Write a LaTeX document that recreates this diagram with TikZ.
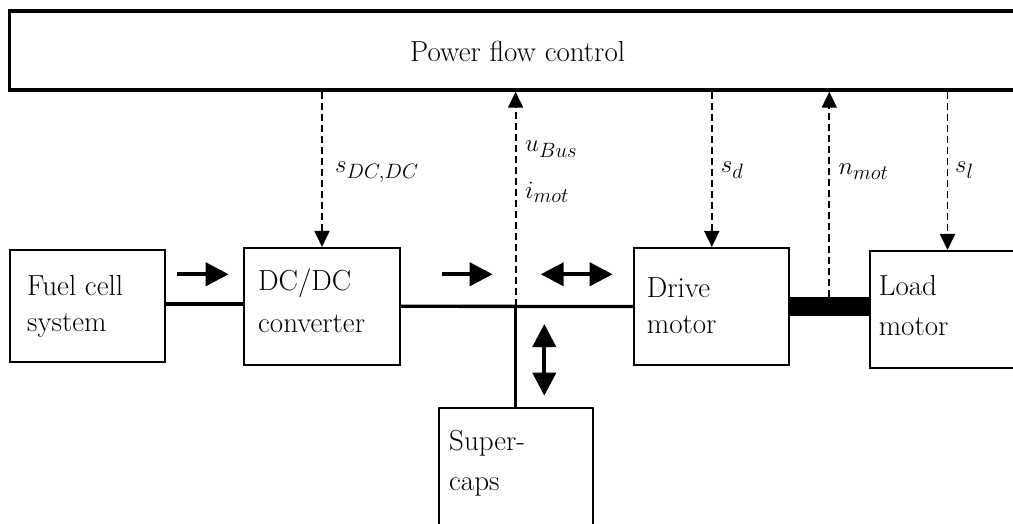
\documentclass[tikz,border=0pt]{standalone}
\usetikzlibrary{arrows.meta}
\begin{document}
\begin{tikzpicture}[x=1pt,y=-1pt,
  blk/.style={draw,line width=2pt,inner sep=0pt,rectangle},
  txt/.style={anchor=base west,inner sep=0pt,font=\fontsize{29}{35}\selectfont},
  lbl/.style={anchor=base west,inner sep=0pt,font=\fontsize{29}{35}\selectfont},
  sig/.style={line width=1.8pt,dash pattern=on 7pt off 4pt,-{Triangle[length=16pt,width=15pt]}},
  pwr/.style={line width=4pt,-{Triangle[length=23pt,width=23pt]}},
  pwr2/.style={line width=4pt,{Triangle[length=23pt,width=23pt]}-{Triangle[length=23pt,width=23pt]}},
  bus/.style={line width=3.3pt}]
\useasboundingbox (0,0) rectangle (1013,524);
\clip (0,0) rectangle (1013,524);
% blocks
\node[blk,line width=3.5pt,minimum width=1020.5pt,minimum height=79pt] (pfc) at (519.75,50.5) {};
\node[blk,minimum width=154.5pt,minimum height=112pt] (fc) at (87.25,306) {};
\node[blk,minimum width=156pt,minimum height=116.7pt] (dcdc) at (322,306.3) {};
\node[blk,minimum width=155pt,minimum height=117pt] (drive) at (711.8,306.5) {};
\node[blk,minimum width=155pt,minimum height=117pt] (load) at (947.5,309.5) {};
\node[blk,minimum width=154.2pt,minimum height=120pt] (sc) at (515.6,468.3) {};
% texts
\node[txt] (tpfc) at (410,61.7) {Power flow control};
\node[txt] (tfc1) at (27,295) {Fuel cell};
\node[txt] (tfc2) at (27,331) {system};
\node[txt] (tdc1) at (258,290) {DC/DC};
\node[txt] (tdc2) at (258,332.7) {converter};
\node[txt] (tdr1) at (646.7,297) {Drive};
\node[txt] (tdr2) at (646.7,333) {motor};
\node[txt] (tld1) at (878.6,295) {Load};
\node[txt] (tld2) at (878.6,335) {motor};
\node[txt] (tsc1) at (449,450.7) {Super-};
\node[txt] (tsc2) at (449,490.7) {caps};
% power lines
\draw[bus] (fc.east |- 0,304) -- (dcdc.west |- 0,304);
\draw[bus] (dcdc.east) -- (drive.west);
\coordinate (jn) at (sc.north |- dcdc.east);
\draw[bus] (jn) -- (sc.north);
\draw[line width=19pt] (drive.east |- 0,306) -- (load.west |- 0,306);
\coordinate (nm) at (829.3,296.5);
% signal lines
\draw[sig] (pfc.south -| dcdc.north) -- (dcdc.north);
\draw[sig] (jn) -- (pfc.south -| jn);
\draw[sig] (pfc.south -| drive.north) -- (drive.north);
\draw[sig] (nm) -- (pfc.south -| nm);
\draw[sig] (pfc.south -| load.north) -- (load.north);
\node[lbl] (l1) at (335,173) {$s_{DC,DC}$};
\node[lbl] (l2) at (525,151.7) {$u_{Bus}$};
\node[lbl] (l3) at (525,198.3) {$i_{mot}$};
\node[lbl] (l4) at (720.7,173) {$s_d$};
\node[lbl] (l5) at (838.3,175) {$n_{mot}$};
\node[lbl] (l6) at (955,173) {$s_l$};
% flow arrows
\coordinate (a1s) at (177,274.3); \coordinate (a1e) at (228.7,274.3);
\coordinate (a2s) at (441.7,274.3); \coordinate (a2e) at (492.7,274.3);
\coordinate (a3s) at (540.7,274.3); \coordinate (a3e) at (612.7,274.3);
\coordinate (a4s) at (544.3,324); \coordinate (a4e) at (544.3,395.7);
\draw[pwr] (a1s) -- (a1e);
\draw[pwr] (a2s) -- (a2e);
\draw[pwr2] (a3s) -- (a3e);
\draw[pwr2] (a4s) -- (a4e);
\end{tikzpicture}
\end{document}
